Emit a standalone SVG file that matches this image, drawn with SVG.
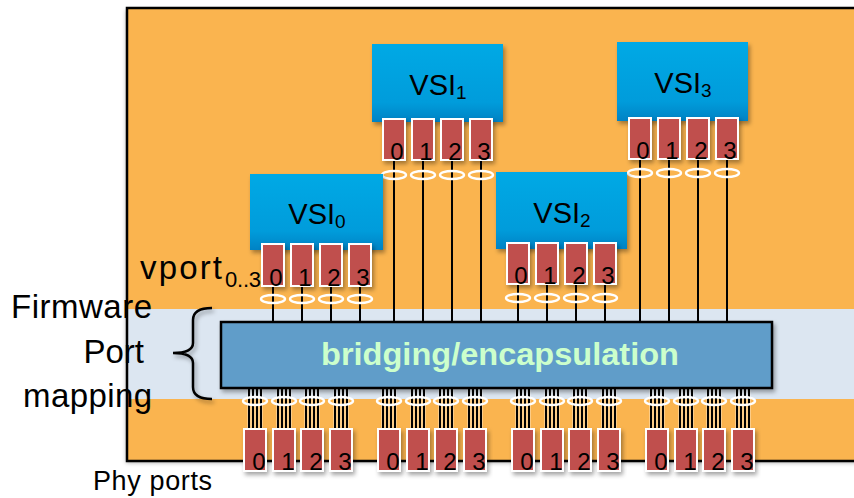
<svg xmlns="http://www.w3.org/2000/svg" width="854" height="498" viewBox="0 0 854 498">
  <defs>
    <linearGradient id="vsiFill" x1="0" y1="0" x2="0" y2="1">
      <stop offset="0" stop-color="#00a9e5"/>
      <stop offset="0.75" stop-color="#009cdb"/>
      <stop offset="1" stop-color="#0082c4"/>
    </linearGradient>
    <filter id="shadow" x="-20%" y="-20%" width="150%" height="160%">
      <feDropShadow dx="2" dy="3" stdDeviation="2.2" flood-color="#000" flood-opacity="0.35"/>
    </filter>
    <filter id="frameShadow" x="-5%" y="-5%" width="110%" height="110%">
      <feDropShadow dx="-1" dy="2" stdDeviation="2" flood-color="#000" flood-opacity="0.3"/>
    </filter>
  </defs>
  <style>
    text { font-family: "Liberation Sans", Arial, sans-serif; fill: #000; }
    .vsi { fill: url(#vsiFill); filter: url(#shadow); }
    .vsiLabel { font-size: 29px; text-anchor: middle; }
    .sub { font-size: 19px; }
    .port { fill: #c0504d; stroke: #fff; stroke-width: 2; filter: url(#shadow); }
    .digit { font-size: 24px; text-anchor: middle; }
    .wire { stroke: #000; stroke-width: 2; fill: none; }
    .bundleHalo { stroke: #fff; stroke-width: 3.4; fill: none; opacity: 0.45; }
    .bundle { stroke: #000; stroke-width: 2; fill: none; }
    .ring { fill: none; stroke: #fff; stroke-width: 2.4; }
    .label { font-size: 33px; }
  </style>

  <!-- board outline and firmware band -->
  <g id="board">
    <rect x="127" y="8" width="740" height="453" fill="#fab44f" filter="url(#frameShadow)"/>
    <rect x="127" y="309" width="727" height="90" fill="#dce6f1"/>
    <rect x="127" y="8" width="740" height="453" fill="none" stroke="#000" stroke-width="2.5"/>
  </g>

  <!-- side labels -->
  <g id="labels">
    <text class="label" x="152" y="318" text-anchor="end" textLength="141">Firmware</text>
    <text class="label" x="144" y="363" text-anchor="end">Port</text>
    <text class="label" x="152" y="407" text-anchor="end" textLength="129">mapping</text>
    <text class="label" x="140" y="279" textLength="82">vport</text>
    <text x="225" y="287" font-size="22" textLength="36">0..3</text>
    <text x="93" y="490" font-size="27" textLength="119">Phy ports</text>
  </g>

  <g id="brace" filter="url(#shadow)">
    <path d="M212,308 C200,308 193,311 193,320 L193,343 C193,350 186,353 173,353 C186,353 193,356 193,363 L193,387 C193,396 200,399 212,399" fill="none" stroke="#000" stroke-width="2.5"/>
  </g>

  <!-- connectors: VSI vports to the bridge, bridge to physical ports -->
  <g id="connectors">
    <!-- VSI1 -->
    <path class="wire" d="M394,161V322M423,161V322M452,161V322M481,161V322"/>
    <!-- VSI3 -->
    <path class="wire" d="M640,160V322M669,160V322M698,160V322M727,160V322"/>
    <!-- VSI0 -->
    <path class="wire" d="M273,287V322M302,287V322M331,287V322M360,287V322"/>
    <!-- VSI2 -->
    <path class="wire" d="M518,285V322M547,285V322M576,285V322M605,285V322"/>

    <!-- phy port bundles -->
    <g class="bundleHalo">
      <path d="M249,388V428M253,388V428M257,388V428M261,388V428M278,388V428M282,388V428M286,388V428M290,388V428M306,388V428M310,388V428M314,388V428M318,388V428M335,388V428M339,388V428M343,388V428M347,388V428"/>
      <path d="M383,388V428M387,388V428M391,388V428M395,388V428M412,388V428M416,388V428M420,388V428M424,388V428M440,388V428M444,388V428M448,388V428M452,388V428M469,388V428M473,388V428M477,388V428M481,388V428"/>
      <path d="M517,388V428M521,388V428M525,388V428M529,388V428M546,388V428M550,388V428M554,388V428M558,388V428M574,388V428M578,388V428M582,388V428M586,388V428M603,388V428M607,388V428M611,388V428M615,388V428"/>
      <path d="M651,388V428M655,388V428M659,388V428M663,388V428M680,388V428M684,388V428M688,388V428M692,388V428M708,388V428M712,388V428M716,388V428M720,388V428M737,388V428M741,388V428M745,388V428M749,388V428"/>
    </g>
    <g class="bundle">
      <path d="M249,388V428M253,388V428M257,388V428M261,388V428M278,388V428M282,388V428M286,388V428M290,388V428M306,388V428M310,388V428M314,388V428M318,388V428M335,388V428M339,388V428M343,388V428M347,388V428"/>
      <path d="M383,388V428M387,388V428M391,388V428M395,388V428M412,388V428M416,388V428M420,388V428M424,388V428M440,388V428M444,388V428M448,388V428M452,388V428M469,388V428M473,388V428M477,388V428M481,388V428"/>
      <path d="M517,388V428M521,388V428M525,388V428M529,388V428M546,388V428M550,388V428M554,388V428M558,388V428M574,388V428M578,388V428M582,388V428M586,388V428M603,388V428M607,388V428M611,388V428M615,388V428"/>
      <path d="M651,388V428M655,388V428M659,388V428M663,388V428M680,388V428M684,388V428M688,388V428M692,388V428M708,388V428M712,388V428M716,388V428M720,388V428M737,388V428M741,388V428M745,388V428M749,388V428"/>
    </g>

    <!-- port rings -->
    <g class="ring">
      <ellipse cx="394" cy="175" rx="12" ry="4"/>
      <ellipse cx="423" cy="175" rx="12" ry="4"/>
      <ellipse cx="452" cy="175" rx="12" ry="4"/>
      <ellipse cx="481" cy="175" rx="12" ry="4"/>
      <ellipse cx="640" cy="173" rx="12" ry="4"/>
      <ellipse cx="669" cy="173" rx="12" ry="4"/>
      <ellipse cx="698" cy="173" rx="12" ry="4"/>
      <ellipse cx="727" cy="173" rx="12" ry="4"/>
      <ellipse cx="273" cy="299" rx="12" ry="4"/>
      <ellipse cx="302" cy="299" rx="12" ry="4"/>
      <ellipse cx="331" cy="299" rx="12" ry="4"/>
      <ellipse cx="360" cy="299" rx="12" ry="4"/>
      <ellipse cx="518" cy="298" rx="12" ry="4"/>
      <ellipse cx="547" cy="298" rx="12" ry="4"/>
      <ellipse cx="576" cy="298" rx="12" ry="4"/>
      <ellipse cx="605" cy="298" rx="12" ry="4"/>
      <ellipse cx="255" cy="401" rx="12" ry="4"/>
      <ellipse cx="284" cy="401" rx="12" ry="4"/>
      <ellipse cx="312" cy="401" rx="12" ry="4"/>
      <ellipse cx="341" cy="401" rx="12" ry="4"/>
      <ellipse cx="389" cy="401" rx="12" ry="4"/>
      <ellipse cx="418" cy="401" rx="12" ry="4"/>
      <ellipse cx="446" cy="401" rx="12" ry="4"/>
      <ellipse cx="475" cy="401" rx="12" ry="4"/>
      <ellipse cx="523" cy="401" rx="12" ry="4"/>
      <ellipse cx="552" cy="401" rx="12" ry="4"/>
      <ellipse cx="580" cy="401" rx="12" ry="4"/>
      <ellipse cx="609" cy="401" rx="12" ry="4"/>
      <ellipse cx="657" cy="401" rx="12" ry="4"/>
      <ellipse cx="686" cy="401" rx="12" ry="4"/>
      <ellipse cx="714" cy="401" rx="12" ry="4"/>
      <ellipse cx="743" cy="401" rx="12" ry="4"/>
    </g>
  </g>

  <!-- virtual station interfaces with their vports -->
  <g id="vsi1">
    <rect class="vsi" x="372" y="44" width="131" height="78"/>
    <text class="vsiLabel" x="438" y="95">VSI<tspan class="sub" dy="4">1</tspan></text>
    <rect class="port" x="383" y="119" width="22" height="41"/>
    <rect class="port" x="412" y="119" width="22" height="41"/>
    <rect class="port" x="441" y="119" width="22" height="41"/>
    <rect class="port" x="470" y="119" width="22" height="41"/>
    <text class="digit" x="397" y="160">0</text>
    <text class="digit" x="426" y="160">1</text>
    <text class="digit" x="455" y="160">2</text>
    <text class="digit" x="484" y="160">3</text>
  </g>

  <g id="vsi3">
    <rect class="vsi" x="617" y="42" width="131" height="79"/>
    <text class="vsiLabel" x="683" y="93">VSI<tspan class="sub" dy="4">3</tspan></text>
    <rect class="port" x="629" y="118" width="22" height="41"/>
    <rect class="port" x="658" y="118" width="22" height="41"/>
    <rect class="port" x="687" y="118" width="22" height="41"/>
    <rect class="port" x="716" y="118" width="22" height="41"/>
    <text class="digit" x="643" y="159">0</text>
    <text class="digit" x="672" y="159">1</text>
    <text class="digit" x="701" y="159">2</text>
    <text class="digit" x="730" y="159">3</text>
  </g>

  <g id="vsi0">
    <rect class="vsi" x="250" y="174" width="133" height="76"/>
    <text class="vsiLabel" x="317" y="224">VSI<tspan class="sub" dy="4">0</tspan></text>
    <rect class="port" x="262" y="244" width="22" height="42"/>
    <rect class="port" x="291" y="244" width="22" height="42"/>
    <rect class="port" x="320" y="244" width="22" height="42"/>
    <rect class="port" x="349" y="244" width="22" height="42"/>
    <text class="digit" x="276" y="286">0</text>
    <text class="digit" x="305" y="286">1</text>
    <text class="digit" x="334" y="286">2</text>
    <text class="digit" x="363" y="286">3</text>
  </g>

  <g id="vsi2">
    <rect class="vsi" x="496" y="172" width="131" height="77"/>
    <text class="vsiLabel" x="562" y="223">VSI<tspan class="sub" dy="4">2</tspan></text>
    <rect class="port" x="507" y="243" width="22" height="41"/>
    <rect class="port" x="536" y="243" width="22" height="41"/>
    <rect class="port" x="565" y="243" width="22" height="41"/>
    <rect class="port" x="594" y="243" width="22" height="41"/>
    <text class="digit" x="521" y="284">0</text>
    <text class="digit" x="550" y="284">1</text>
    <text class="digit" x="579" y="284">2</text>
    <text class="digit" x="608" y="284">3</text>
  </g>

  <!-- firmware bridging block -->
  <g id="bridge">
    <rect x="221" y="322" width="551" height="66" fill="#619dc9" stroke="#000" stroke-width="2.5" filter="url(#shadow)"/>
    <text x="500" y="365" font-size="31" font-weight="bold" text-anchor="middle" style="fill:#ccffcc" textLength="358" lengthAdjust="spacingAndGlyphs">bridging/encapsulation</text>
  </g>

  <!-- physical ports -->
  <g id="phy0">
    <rect class="port" x="244" y="429" width="22" height="42"/>
    <rect class="port" x="273" y="429" width="22" height="42"/>
    <rect class="port" x="301" y="429" width="22" height="42"/>
    <rect class="port" x="330" y="429" width="22" height="42"/>
    <text class="digit" x="259" y="470">0</text>
    <text class="digit" x="288" y="470">1</text>
    <text class="digit" x="316" y="470">2</text>
    <text class="digit" x="345" y="470">3</text>
  </g>
  <g id="phy1">
    <rect class="port" x="378" y="429" width="22" height="42"/>
    <rect class="port" x="407" y="429" width="22" height="42"/>
    <rect class="port" x="435" y="429" width="22" height="42"/>
    <rect class="port" x="464" y="429" width="22" height="42"/>
    <text class="digit" x="393" y="470">0</text>
    <text class="digit" x="422" y="470">1</text>
    <text class="digit" x="450" y="470">2</text>
    <text class="digit" x="479" y="470">3</text>
  </g>
  <g id="phy2">
    <rect class="port" x="512" y="429" width="22" height="42"/>
    <rect class="port" x="541" y="429" width="22" height="42"/>
    <rect class="port" x="569" y="429" width="22" height="42"/>
    <rect class="port" x="598" y="429" width="22" height="42"/>
    <text class="digit" x="527" y="470">0</text>
    <text class="digit" x="556" y="470">1</text>
    <text class="digit" x="584" y="470">2</text>
    <text class="digit" x="613" y="470">3</text>
  </g>
  <g id="phy3">
    <rect class="port" x="646" y="429" width="22" height="42"/>
    <rect class="port" x="675" y="429" width="22" height="42"/>
    <rect class="port" x="703" y="429" width="22" height="42"/>
    <rect class="port" x="732" y="429" width="22" height="42"/>
    <text class="digit" x="661" y="470">0</text>
    <text class="digit" x="690" y="470">1</text>
    <text class="digit" x="718" y="470">2</text>
    <text class="digit" x="747" y="470">3</text>
  </g>
</svg>
